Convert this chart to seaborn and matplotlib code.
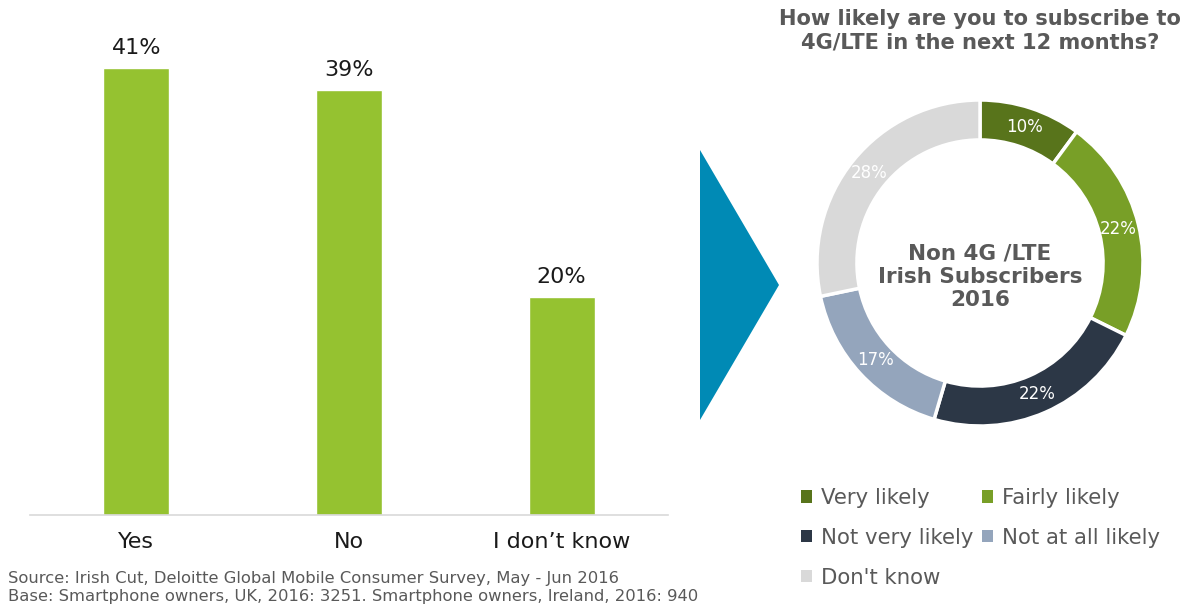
import matplotlib
matplotlib.use("Agg")
import matplotlib.pyplot as plt
from matplotlib.patches import Polygon, Patch
import seaborn as sns
import pandas as pd

# ---- data ----
bar_categories = ["Yes", "No", "I don\u2019t know"]
bar_values = [41, 39, 20]

donut_labels = ["Very likely", "Fairly likely", "Not very likely", "Not at all likely", "Don't know"]
donut_values = [10, 22, 22, 17, 28]
donut_colors = ["#58741B", "#789F27", "#2C3746", "#94A5BC", "#D9D9D9"]

title_text = "How likely are you to subscribe to\n4G/LTE in the next 12 months?"
center_text = "Non 4G /LTE\nIrish Subscribers\n2016"
source_lines = ["Source: Irish Cut, Deloitte Global Mobile Consumer Survey, May - Jun 2016",
                "Base: Smartphone owners, UK, 2016: 3251. Smartphone owners, Ireland, 2016: 940"]

sns.set_style("white")
plt.rcParams['font.family'] = ['DejaVu Sans']

W, H = 1189, 609
fig = plt.figure(figsize=(W / 100, H / 100), dpi=100)

# ---- bar chart ----
ax = fig.add_axes([30 / W, (H - 515) / H, 638 / W, 485 / H])
df = pd.DataFrame({"cat": bar_categories, "val": bar_values})
sns.barplot(data=df, x="cat", y="val", color="#95C230", width=0.31, saturation=1, ax=ax)
ax.set_xlim(-0.5, 2.5)
ax.set_ylim(0, 485 / 10.9)
ax.set_xlabel("")
ax.set_ylabel("")
ax.set_yticks([])
for s in ["top", "right", "left"]:
    ax.spines[s].set_visible(False)
ax.spines["bottom"].set_color("#D9D9D9")
ax.spines["bottom"].set_linewidth(1.2)
ax.tick_params(axis="x", length=0, pad=12.5, labelsize=16, labelcolor="#1a1a1a")
ax.bar_label(ax.containers[0], labels=[f"{v}%" for v in bar_values], padding=7,
             fontsize=16, color="#1a1a1a")

# ---- arrow triangle ----
tri = Polygon([(700 / W, 1 - 150 / H), (700 / W, 1 - 420 / H), (779 / W, 1 - 285 / H)],
              closed=True, transform=fig.transFigure, facecolor="#008AB5", edgecolor="none")
fig.patches.append(tri)

# ---- donut ----
R = 163
cx, cy = 980, 263
ax2 = fig.add_axes([(cx - R) / W, (H - cy - R) / H, 2 * R / W, 2 * R / H])
total = sum(donut_values)
wedges, texts, autotexts = ax2.pie(
    donut_values, colors=donut_colors, startangle=90, counterclock=False,
    radius=1.0, wedgeprops=dict(width=0.245, edgecolor="white", linewidth=2.5),
    autopct=lambda p: f"{round(p * total / 100):.0f}%", pctdistance=0.875,
    textprops=dict(color="white", fontsize=12))
ax2.set_xlim(-1, 1)
ax2.set_ylim(-1, 1)
ax2.set_aspect("equal")
ax2.axis("off")
ax2.text(0, -14 / R, center_text, ha="center", va="center", fontsize=15.5,
         fontweight="bold", color="#595959", linespacing=1.2)

fig.text(980 / W, 1 - 9 / H, title_text, ha="center", va="top", fontsize=15.1,
         fontweight="bold", color="#595959", linespacing=1.25)

# ---- legend ----
order = [0, 2, 4, 1, 3]
handles = [Patch(facecolor=donut_colors[i], edgecolor="none") for i in order]
labels = [donut_labels[i] for i in order]
fig.legend(handles, labels, loc="upper left", bbox_to_anchor=(801 / W, 1 - 488 / H),
           ncol=2, frameon=False, fontsize=15.3, labelcolor="#595959",
           handlelength=0.5, handleheight=0.5, handletextpad=0.45,
           columnspacing=0.4, labelspacing=0.93, borderpad=0, borderaxespad=0)

# ---- source ----
fig.text(8 / W, 1 - 579 / H, source_lines[0], ha="left", va="center", fontsize=11.8, color="#595959")
fig.text(8 / W, 1 - 597 / H, source_lines[1], ha="left", va="center", fontsize=11.8, color="#595959")

fig.savefig("out.png", dpi=100)
